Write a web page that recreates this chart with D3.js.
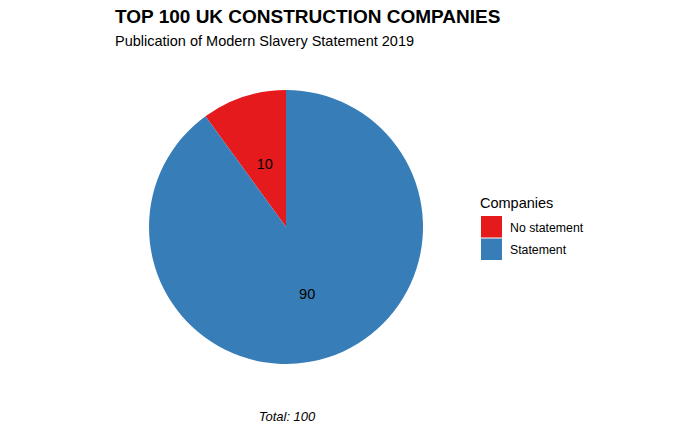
<!DOCTYPE html>
<html><head><meta charset="utf-8">
<script src="https://cdn.jsdelivr.net/npm/d3@7"></script>
<style>body{margin:0;background:#fff}text{font-family:"Liberation Sans",Arial,sans-serif}</style>
</head><body><svg id="c" width="700" height="432"></svg>
<script>
const categories = ["No statement", "Statement"];
const values = [10, 90];
const colors = ["#E41A1C", "#377EB8"];
const title = "TOP 100 UK CONSTRUCTION COMPANIES";
const subtitle = "Publication of Modern Slavery Statement 2019";
const caption = "Total: 100";
const legendTitle = "Companies";

const svg = d3.select("#c");
svg.append("rect").attr("width",700).attr("height",432).attr("fill","#fff");
const cx = 286, cy = 227, r = 137;
const color = d3.scaleOrdinal().domain(categories).range(colors);
const data = categories.map((c,i)=>({cat:c, v:values[i]}));
// first slice runs counterclockwise from 12 o'clock
const pie = d3.pie().value(d=>d.v).sort(null).startAngle(0).endAngle(-2*Math.PI);
const arcs = pie(data);
const arc = d3.arc().innerRadius(0).outerRadius(r);
const labelArc = d3.arc().innerRadius(r*0.5).outerRadius(r*0.5);
const g = svg.append("g").attr("transform",`translate(${cx},${cy})`);
g.selectAll("path").data(arcs).join("path").attr("d",arc).attr("fill",d=>color(d.data.cat));
g.selectAll("text").data(arcs).join("text")
  .attr("transform",d=>`translate(${labelArc.centroid(d)})`)
  .attr("text-anchor","middle").attr("dy","0.5em")
  .attr("font-size",14.5).attr("fill","#000").text(d=>d.data.v);

svg.append("text").attr("x",115).attr("y",23).attr("font-size",19).attr("font-weight","bold").text(title);
svg.append("text").attr("x",115).attr("y",46).attr("font-size",14.5).text(subtitle);
svg.append("text").attr("x",287).attr("y",421).attr("font-size",13).attr("font-style","italic").attr("text-anchor","middle").text(caption);

const lg = svg.append("g");
lg.append("text").attr("x",480).attr("y",208).attr("font-size",14.5).text(legendTitle);
const ky = d3.scaleBand().domain(categories).range([216,261]);
lg.selectAll("rect").data(categories).join("rect")
  .attr("x",481).attr("y",d=>ky(d)).attr("width",21).attr("height",ky.bandwidth()-1).attr("fill",d=>color(d));
lg.selectAll("text.l").data(categories).join("text").attr("class","l")
  .attr("x",510).attr("y",d=>ky(d)+ky.bandwidth()/2).attr("dy","0.35em").attr("font-size",12.3).text(d=>d);
</script></body></html>
